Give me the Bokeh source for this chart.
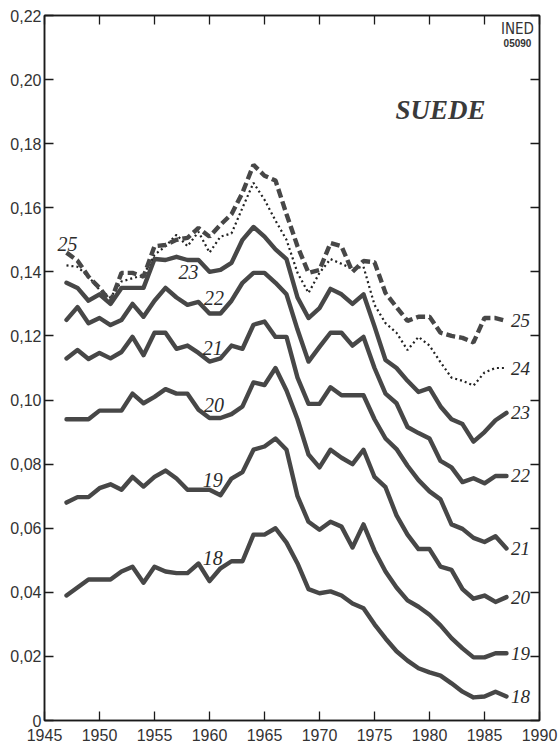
from bokeh.plotting import figure
from bokeh.models import LinearAxis, FixedTicker, CustomJSTickFormatter, Range1d, Label
from bokeh.core.properties import value
from bokeh.embed import file_html
from bokeh.resources import INLINE

# ---------------- data ----------------
years = list(range(1947, 1988))

age18 = [0.039, 0.0415, 0.044, 0.044, 0.044, 0.0465, 0.048, 0.043, 0.048, 0.0465,
         0.046, 0.046, 0.049, 0.0435, 0.0475, 0.0497, 0.0497, 0.058, 0.058, 0.060,
         0.0555, 0.049, 0.041, 0.0397, 0.0403, 0.039, 0.0365, 0.035, 0.030, 0.0256,
         0.0216, 0.0187, 0.0163, 0.015, 0.014, 0.0116, 0.009, 0.0072, 0.0075, 0.009, 0.0075]
age19 = [0.068, 0.0697, 0.0697, 0.0725, 0.0737, 0.072, 0.076, 0.073, 0.076, 0.078,
         0.0755, 0.072, 0.072, 0.072, 0.0703, 0.0755, 0.0775, 0.0845, 0.0855, 0.088,
         0.0845, 0.070, 0.062, 0.0595, 0.062, 0.0605, 0.054, 0.0612, 0.053, 0.0465,
         0.0415, 0.0375, 0.0355, 0.033, 0.0297, 0.0257, 0.0225, 0.0197, 0.0197, 0.021, 0.021]
age20 = [0.094, 0.094, 0.094, 0.0967, 0.0967, 0.0967, 0.102, 0.099, 0.101, 0.1034,
         0.102, 0.102, 0.097, 0.0944, 0.0944, 0.0956, 0.098, 0.1055, 0.1047, 0.110,
         0.103, 0.094, 0.083, 0.079, 0.0845, 0.082, 0.080, 0.0845, 0.076, 0.0728,
         0.064, 0.058, 0.0535, 0.0535, 0.048, 0.047, 0.041, 0.038, 0.039, 0.037, 0.0385]
age21 = [0.113, 0.1156, 0.1128, 0.1147, 0.113, 0.115, 0.1197, 0.114, 0.121, 0.121,
         0.116, 0.117, 0.1147, 0.112, 0.113, 0.117, 0.116, 0.1235, 0.1245, 0.1197,
         0.1197, 0.107, 0.0988, 0.0988, 0.104, 0.1015, 0.1015, 0.1015, 0.094, 0.088,
         0.0847, 0.0795, 0.075, 0.0715, 0.069, 0.0612, 0.0598, 0.057, 0.0557, 0.0575, 0.0537]
age22 = [0.125, 0.129, 0.124, 0.1256, 0.1234, 0.125, 0.130, 0.126, 0.131, 0.135,
         0.132, 0.1297, 0.1306, 0.127, 0.127, 0.131, 0.1366, 0.1397, 0.1397, 0.1366,
         0.133, 0.122, 0.112, 0.1166, 0.121, 0.121, 0.117, 0.1197, 0.110, 0.102,
         0.099, 0.0916, 0.0897, 0.088, 0.081, 0.079, 0.0744, 0.0756, 0.074, 0.0763, 0.0763]
age23 = [0.1366, 0.135, 0.131, 0.133, 0.130, 0.135, 0.135, 0.135, 0.144, 0.1437,
         0.1447, 0.1437, 0.1437, 0.140, 0.1406, 0.1428, 0.150, 0.154, 0.151, 0.147,
         0.144, 0.132, 0.1256, 0.1287, 0.1347, 0.133, 0.130, 0.133, 0.123, 0.1125,
         0.110, 0.106, 0.1025, 0.1037, 0.098, 0.094, 0.0925, 0.087, 0.090, 0.0937, 0.096]
age24 = [0.142, 0.1416, 0.1385, 0.1344, 0.132, 0.137, 0.138, 0.139, 0.1453, 0.148,
         0.1516, 0.148, 0.1525, 0.146, 0.151, 0.152, 0.160, 0.1678, 0.1625, 0.156,
         0.150, 0.1397, 0.1334, 0.1397, 0.144, 0.1425, 0.141, 0.1416, 0.1297, 0.124,
         0.121, 0.1156, 0.1197, 0.117, 0.1118, 0.107, 0.106, 0.1045, 0.1086, 0.110, 0.110]
age25 = [0.146, 0.1435, 0.1385, 0.135, 0.1306, 0.1397, 0.1397, 0.1385, 0.148, 0.1484,
         0.150, 0.1506, 0.1537, 0.151, 0.1547, 0.158, 0.1647, 0.1734, 0.170, 0.1685,
         0.158, 0.148, 0.1397, 0.1406, 0.149, 0.148, 0.140, 0.1434, 0.143, 0.1334,
         0.129, 0.1247, 0.126, 0.126, 0.121, 0.120, 0.1194, 0.118, 0.1256, 0.1256, 0.1247]

age_labels = ["18", "19", "20", "21", "22", "23", "24", "25"]
x_ticks = [1945, 1950, 1955, 1960, 1965, 1970, 1975, 1980, 1985, 1990]
y_ticks = [0, 0.02, 0.04, 0.06, 0.08, 0.10, 0.12, 0.14, 0.16, 0.18, 0.20, 0.22]
title_text = "SUEDE"
logo_top = "INED"
logo_code = "05090"

# ---------------- figure ----------------
LINE = "#474747"
TXT = "#2b2b2b"

p = figure(width=559, height=745, output_backend="svg", toolbar_location=None,
           x_range=Range1d(1945, 1990), y_range=Range1d(0, 0.22),
           min_border_left=44, min_border_top=15, min_border_right=20, min_border_bottom=25,
           background_fill_color="white", border_fill_color="white")
p.grid.visible = False
p.outline_line_color = "#1a1a1a"
p.outline_line_width = 1.5

def style_axis(ax, show_labels):
    ax.axis_line_color = "#1a1a1a"
    ax.axis_line_width = 1.5
    ax.major_tick_line_color = "#1a1a1a"
    ax.major_tick_line_width = 1.3
    ax.major_tick_in = 9
    ax.major_tick_out = 0
    ax.minor_tick_in = 0
    ax.minor_tick_out = 0
    if show_labels:
        ax.major_label_text_font = "Liberation Sans"
        ax.major_label_text_font_size = "16px"
        ax.major_label_text_color = "#333333"
    else:
        ax.major_label_text_font_size = "0px"
        ax.major_label_standoff = 0

fmt_y = CustomJSTickFormatter(code="return Math.abs(tick) < 1e-9 ? '0' : tick.toFixed(2).replace('.', ',');")
empty_fmt = CustomJSTickFormatter(code="return '';")

p.xaxis.ticker = FixedTicker(ticks=x_ticks)
p.yaxis.ticker = FixedTicker(ticks=y_ticks)
p.yaxis.formatter = fmt_y
style_axis(p.xaxis[0], True)
style_axis(p.yaxis[0], True)
p.xaxis.major_label_standoff = 8
p.yaxis.major_label_standoff = 3

top_ax = LinearAxis(ticker=FixedTicker(ticks=x_ticks), formatter=empty_fmt)
right_ax = LinearAxis(ticker=FixedTicker(ticks=y_ticks), formatter=empty_fmt)
style_axis(top_ax, False)
style_axis(right_ax, False)
p.add_layout(top_ax, "above")
p.add_layout(right_ax, "right")

# ---------------- lines ----------------
solid = [age18, age19, age20, age21, age22, age23]
for s in solid:
    p.line(years, s, line_color=LINE, line_width=4.4, line_join="round", line_cap="round")
p.line(years, age24, line_color="#222222", line_width=2.2, line_dash="2 3")
p.line(years, age25, line_color=LINE, line_width=4.4, line_dash="9 4")

# ---------------- labels ----------------
all_series = [age18, age19, age20, age21, age22, age23, age24, age25]
# right-end labels, anchored to each series' last point
end_x = [years[-1] + 0.4] * len(all_series)
end_y = [s[-1] for s in all_series]
p.text(end_x, end_y, text=age_labels, text_font=value("Liberation Serif"),
       text_font_style="italic", text_font_size="19px", text_align="left",
       text_baseline="middle", text_color=TXT)

# inner labels: anchored on a year of the series, nudged off the line (data units)
inner = [  # (series index, anchor year, shift)
    (0, 1960.3, 0.0061),
    (1, 1960.3, 0.0036),
    (2, 1960.4, 0.0040),
    (3, 1960.3, 0.0040),
    (4, 1960.4, 0.0049),
    (5, 1958.1, -0.0037),
    (7, 1947.1, 0.0030),
]
in_x, in_y, in_t = [], [], []
for idx, yr, sh in inner:
    s = all_series[idx]
    i = int(yr) - years[0]
    frac = yr - int(yr)
    v = s[i] + (s[min(i + 1, len(s) - 1)] - s[i]) * frac
    in_x.append(yr)
    in_y.append(v + sh)
    in_t.append(age_labels[idx])
p.text(in_x, in_y, text=in_t, text_font=value("Liberation Serif"),
       text_font_style="italic", text_font_size="20px", text_align="center",
       text_baseline="middle", text_color=TXT)

p.add_layout(Label(x=1981, y=0.1906, text=title_text, text_font="Liberation Serif",
                   text_font_style="bold italic", text_font_size="27px",
                   text_align="center", text_baseline="middle", text_color="#3a3a3a"))
p.add_layout(Label(x=1988.0, y=0.2158, text=logo_top, text_font="DejaVu Sans Condensed",
                   text_font_size="15px", text_align="center", text_baseline="middle",
                   text_color="#333333"))
p.add_layout(Label(x=1988.0, y=0.2115, text=logo_code, text_font="Liberation Sans",
                   text_font_style="bold", text_font_size="10px", text_align="center",
                   text_baseline="middle", text_color="#333333"))

open("out.html", "w").write(file_html(p, INLINE))
